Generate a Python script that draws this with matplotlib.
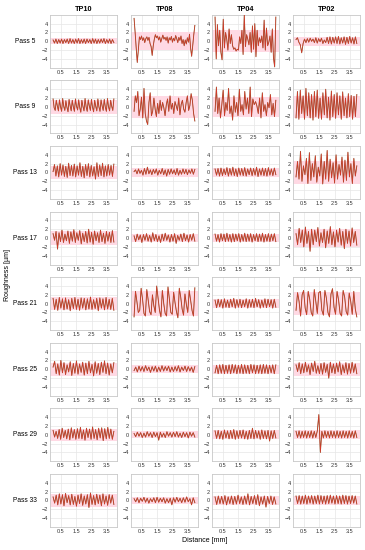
import numpy as np
import matplotlib
matplotlib.use('Agg')
import matplotlib.pyplot as plt

plt.rcParams['font.family'] = ['Liberation Sans', 'DejaVu Sans']

# column / row labels
specimens = ['TP10', 'TP08', 'TP04', 'TP02']
passes = ['Pass 5', 'Pass 9', 'Pass 13', 'Pass 17', 'Pass 21', 'Pass 25', 'Pass 29', 'Pass 33']
x_ticks = [0.5, 1.5, 2.5, 3.5]
y_ticks = [-4, -2, 0, 2, 4]

# roughness profiles [um] (evenly spaced along the 0-3.95 mm trace)
tp10_p05 = [0.3, -0.4, 0.5, -0.5, 0.4, -0.4, 0.5, -0.5, 0.4, -0.3, 0.5, -0.5, 0.6, -0.4, 0.4, -0.5, 0.5, -0.4, 0.6, -0.5, 0.4, -0.4,
            0.5, -0.5, 0.5, -0.3, 0.4, -0.5, 0.6, -0.4, 0.5, -0.5, 0.4, -0.4, 0.5, -0.3, 0.6, -0.5, 0.4, -0.4, 0.5, -0.5, 0.4, -0.3]
tp08_p05 = [5.2, 2.0, -1.5, -4.8, -2.0, 1.0, 0.4, 1.2, 0.2, 0.8, -0.3, 0.6, 1.0, 0.2, 0.9, -0.5, -1.2, -3.2, -1.0, 0.5, 1.5, 0.8,
            1.2, 0.3, 1.0, -0.2, 0.6, 1.4, 0.5, 0.9, 0.2, 1.0, -0.4, 0.8, 0.3, 1.1, -0.2, 0.7, 0.1, 1.3, 0.6, -0.3, 0.9, 0.2,
            1.2, -0.5, 0.4, -1.0, 0.3, -0.6, 0.8, -0.2, 1.6, -1.5, -3.4, -1.0, 1.5, 3.6]
tp04_p05 = [5.5, -4.0, 3.8, -1.0, 2.5, -2.5, -4.2, 5.0, -1.5, 2.0, 0.5, -2.0, 2.8, -0.5, 1.5, -1.0, -1.8, -1.5, -2.2, -1.8, -2.0,
            1.0, -0.5, 2.5, -3.0, 6.0, -1.2, 1.5, 0.5, -0.8, 2.0, -2.5, 3.5, -1.8, 4.0, -3.5, 2.5, -1.0, 0.8, -0.3, 1.2, -1.5,
            4.8, -2.0, 3.0, -1.0, -0.2, 1.2, -2.5, 2.8, -3.8, -5.8, 5.5]
tp02_p05 = [0.4, 0.8, -0.2, -0.8, -2.6, -0.5, 0.5, -0.3, 0.6, -0.2, 0.7, 0.0, 0.5, -0.3, 0.8, -0.4, 0.6, -0.1, 0.7, -0.5, 0.3,
            -0.3, 0.9, -0.5, 1.0, -0.6, 0.9, -0.4, 1.0, -0.5, 1.1, -0.6, 0.8, -0.4, 1.0, -0.7, 0.9, -0.5, 1.1, -0.4, 0.8, -0.6,
            1.0, -0.5]

tp10_p09 = [1.8, -0.2, -0.8, 1.5, 0.2, -0.9, 1.6, 0.0, -1.0, 1.9, 0.1, -0.8, 1.4, -0.1, -1.1, 1.7, 0.2, -0.9, 1.5, 0.0, -1.0,
            1.8, 0.1, -0.7, 1.6, -0.2, -1.2, 1.5, 0.1, -0.9, 1.9, 0.0, -1.0, 1.6, 0.2, -0.8, 1.7, -0.1, -1.1, 1.5, 0.1, -0.9,
            1.8, 0.0, -1.0, 1.6, 0.2, -0.8, 1.7, -0.1, -1.0, 1.9, 0.0, -0.9, 1.5, 0.1, -0.8, 1.8]
tp08_p09 = [-1.0, 2.5, 1.0, 3.5, -2.0, -0.5, 2.2, -2.5, 4.2, -1.5, -3.2, -4.0, 1.0, 3.2, -2.0, -1.0, 2.0, -0.5, -2.2, 0.8,
            -1.5, 1.5, -0.8, 1.0, -0.2, -2.0, 0.5, 1.8, -1.0, 2.5, -0.5, 0.8, -1.5, 1.2, 0.2, -0.8, 2.0, -1.8, 0.6, 1.5, -0.5,
            -1.2, 1.0, 2.5, -0.8, 0.3, 3.0, 1.5, -1.5, -3.2]
tp04_p09 = [-1.0, 4.5, -1.5, 2.0, -2.5, 0.5, 3.8, -2.0, 1.0, -0.8, 4.2, -1.5, 0.2, -3.0, 2.5, -1.2, 1.0, -2.0, 4.0, -1.0, 0.5,
            -1.8, 3.5, -0.5, 2.0, -1.5, 4.5, -2.2, 1.8, 0.5, 1.2, 0.2, -1.5, 2.0, -2.5, 3.2, -1.0, 0.5, -2.0, 1.0, -0.2, 2.8,
            -1.8, 0.8, -2.2, 1.5]
tp02_p09 = [-2.5, 3.5, -2.8, 3.8, -1.5, 2.5, -2.8, 4.2, -2.0, 3.2, -2.5, 2.8, -3.0, 3.5, -2.2, 3.8, -2.6, 2.0, -2.8, 3.2, -1.8,
            4.0, -2.5, 2.2, -3.0, 3.6, -2.2, 2.8, -2.6, 3.2, -1.8, 2.5, -2.8, 3.4, -2.0, 2.0, -2.5, 3.0, -2.2, 2.6, -2.8, 2.4,
            -2.2, 2.8]

tp10_p13 = [0.2, 1.8, -0.8, 1.5, -1.0, 2.0, -0.6, 1.7, -0.9, 1.4, -1.1, 2.1, -0.7, 1.6, -0.8, 1.9, -1.0, 1.5, -0.6, 2.2, -0.9,
            1.4, -1.2, 1.8, -0.7, 2.0, -1.0, 1.6, -0.8, 1.3, -1.5, 2.2, -0.9, 1.7, -0.7, 2.1, -1.0, 1.5, -0.8, 1.8, -0.6, 1.6,
            -0.9, 1.9]
tp08_p13 = [0.2, 0.6, -0.3, 0.8, -0.2, 0.5, -0.6, 0.9, -0.4, 1.2, -0.3, 0.6, -0.5, 0.7, -0.2, 0.8, -0.6, 0.5, -0.3, 0.9, -0.5,
            0.6, -0.8, 0.7, -0.4, 0.8, -0.3, 0.6, -0.5, 0.9, -0.6, 0.5, -0.4, 0.8, -0.3, 0.7, -0.5, 0.6, -0.2, 0.8, -0.4, 0.7]
tp04_p13 = [0.8, -0.6, 0.9, -0.8, 1.0, -0.7, 0.8, -0.5, 1.1, -0.8, 0.9, -0.6, 1.2, -0.7, 0.8, -0.9, 1.0, -0.6, 0.9, -0.7, 1.1,
            -0.8, 0.8, -0.5, 1.0, -0.7, 0.9, -0.6, 1.2, -0.9, 0.8, -0.6, 1.0, -0.7, 0.9, -0.8, 1.1, -0.6, 0.8, -0.7, 1.0, -0.5]
tp02_p13 = [-1.0, 2.5, -1.5, 4.8, -2.0, 1.5, -0.5, 3.2, -2.5, 4.5, -1.8, 2.0, -1.0, 3.8, -2.2, 1.2, -0.8, 4.2, -2.6, 2.5, -1.5,
            5.0, -2.0, 3.0, -1.2, 2.2, -2.4, 4.0, -1.5, 1.8, -0.6, 3.5, -2.2, 2.8, -1.8, 4.6, -1.0, 2.0, -2.5, 3.2, -0.8, 1.5]

tp10_p17 = [1.0, -0.5, 1.5, -2.5, 1.2, -0.8, 1.8, -1.0, 0.9, -0.6, 1.6, -1.2, 1.4, -0.7, 1.9, -1.0, 1.2, -0.5, 1.7, -1.3, 1.1,
            -0.8, 1.5, -1.1, 2.0, -0.9, 1.3, -1.4, 1.6, -0.6, 1.2, -1.0, 1.8, -0.8, 1.1, -1.2, 1.5, -0.7, 1.3, -1.0, 1.7, -0.9]
tp08_p17 = [0.5, -0.8, 0.9, -0.4, 0.7, -1.0, 0.8, -0.5, 1.0, -0.7, 0.6, -0.9, 1.2, -0.6, 0.8, -0.8, 0.5, -1.0, 0.9, -0.6, 1.1,
            -0.5, 0.7, -0.9, 0.8, -0.7, 1.0, -1.2, 0.6, -0.5, 0.9, -0.8, 1.1, -0.6, 0.7, -0.9, 0.8, -0.5, 1.0, -0.7]
tp04_p17 = [0.9, -0.7, 0.8, -0.9, 1.0, -0.6, 0.9, -0.8, 1.1, -0.7, 0.8, -0.9, 1.0, -0.8, 0.9, -0.6, 1.0, -0.9, 0.8, -0.7, 1.1,
            -0.8, 0.9, -0.7, 1.0, -0.9, 0.8, -0.6, 1.0, -0.8, 0.9, -0.7, 1.1, -0.9, 0.8, -0.7, 1.0, -0.8, 0.9, -0.6, 1.0, -0.8]
tp02_p17 = [1.0, -1.5, 2.2, -1.0, 1.8, -2.0, 2.5, -1.2, 1.5, -3.0, 2.0, -1.5, 1.8, -0.8, 2.4, -1.8, 1.2, -1.0, 2.0, -2.2, 1.6,
            -1.2, 2.6, -1.5, 1.4, -2.0, 1.8, -0.9, 2.2, -1.6, 1.5, -2.4, 2.0, -1.2, 1.6, -1.8, 2.3, -1.0, 1.5, -1.6]

tp10_p21 = [1.2, -1.3, 1.0, -1.5, 1.4, -1.0, 1.1, -1.4, 1.3, -1.2, 0.9, -1.6, 1.2, -1.1, 1.4, -1.3, 1.0, -1.5, 1.3, -1.0, 1.2,
            -1.4, 1.1, -1.2, 1.5, -1.3, 0.9, -1.1, 1.2, -1.6, 1.3, -1.0, 1.1, -1.4, 1.4, -1.2, 1.0, -1.3, 1.2, -1.5]
tp08_p21 = [-3.0, 2.8, 0.5, -2.0, -1.5, 3.5, 1.0, -2.2, -2.8, 3.2, 0.8, -1.8, -2.5, 2.0, -0.5, -2.0, 4.0, 1.2, -1.5, -3.0, 3.0,
            0.0, -2.2, -2.8, 3.8, 1.0, -2.0, -2.4, 2.6, 0.2, -1.8, -3.2, 3.5, 1.5, -1.2, -2.6, 2.2, -0.2, -2.0, 3.0, 0.8, -1.5,
            -2.8, 3.6]
tp04_p21 = [0.8, -0.9, 1.0, -0.7, 0.9, -1.0, 1.1, -0.8, 0.8, -0.9, 1.0, -0.7, 1.2, -1.0, 0.9, -0.8, 1.0, -0.9, 0.8, -0.7, 1.1,
            -1.0, 0.9, -0.8, 1.0, -0.9, 1.2, -0.7, 0.9, -1.0, 0.8, -0.8, 1.1, -0.9, 1.0, -0.7, 0.9, -1.0, 1.0, -0.8]
tp02_p21 = [-1.5, 2.5, 0.5, -2.8, 2.0, 3.0, -1.0, -2.5, 2.8, 1.0, -2.0, -2.8, 3.2, 0.5, -2.2, 2.5, 2.8, -1.5, -2.6, 3.0, 1.2,
            -2.0, -3.0, 2.2, 3.4, -0.8, -2.4, 2.8, 0.8, -2.2, -2.8, 3.0, 1.5, -1.8, -2.6, 2.4, 0.5, -2.4, 2.8, -1.2, -3.0]

tp10_p25 = [0.5, 1.8, -1.0, 1.2, -1.3, 2.0, -0.8, 1.5, -1.2, 1.0, -0.6, 1.7, -1.4, 1.3, -0.9, 1.9, -1.1, 1.2, -0.7, 1.6, -1.3,
            1.4, -1.0, 1.8, -0.8, 1.1, -1.5, 1.7, -0.9, 1.3, -1.2, 1.6, -0.7, 1.9, -1.0, 1.4, -1.3, 1.2, -0.8, 1.5]
tp08_p25 = [-0.3, 0.5, -0.6, 0.7, -0.4, 0.6, -0.5, 0.8, -0.3, 0.5, -0.7, 0.6, -0.4, 0.7, -0.6, 0.5, -0.5, 0.8, -0.4, 0.6, -0.3,
            0.7, -0.6, 0.5, -0.5, 0.6, -0.4, 0.8, -0.6, 0.5, -0.3, 0.7, -0.5, 0.6, -0.4, 0.5, -0.7, 0.6]
tp04_p25 = [-0.8, 0.9, -1.0, 1.0, -0.9, 1.1, -1.0, 0.9, -0.9, 1.0, -1.0, 1.1, -0.8, 1.0, -1.0, 0.9, -0.9, 1.1, -1.0, 1.0, -0.9,
            0.9, -1.0, 1.1, -0.8, 1.0, -1.0, 0.9, -0.9, 1.0, -1.0, 1.1, -0.9, 1.0, -1.0, 0.9, -0.8, 1.0, -1.0, 1.0]
tp02_p25 = [1.0, -0.5, 1.5, -1.0, 1.2, -0.8, 1.6, -0.6, 1.0, -1.2, 1.4, -0.5, 1.8, -0.9, 0.8, -1.0, 1.3, -1.1, 1.5, -0.7, 1.1,
            -2.0, 1.6, -0.8, 1.2, -1.0, 1.4, -0.6, 1.7, -1.2, 1.0, -0.8, 1.5, -1.1, 1.3, -0.9, 1.6, -0.7, 1.2, -1.0]

tp10_p29 = [1.0, -0.5, 0.8, -0.8, 1.2, -1.0, 1.5, -0.6, 1.0, -0.9, 1.3, -1.1, 1.6, -0.7, 1.2, -1.0, 1.4, -0.8, 1.7, -0.9, 1.1,
            -1.2, 1.5, -0.6, 1.3, -1.0, 1.8, -0.8, 1.2, -1.1, 1.5, -0.7, 1.6, -1.3, 1.4, -0.9, 1.7, -0.8, 1.3, -1.0, 0.8]
tp08_p29 = [0.3, -0.4, 0.6, -0.3, 0.5, -0.6, 0.4, -0.5, 0.7, -0.3, 0.5, -0.6, 0.6, -0.4, 0.5, -1.2, 0.6, -0.5, 0.4, -0.6, 0.7,
            -0.3, 0.5, -0.5, 0.6, -0.4, 0.7, -0.5, 0.4, -0.6, 0.6, -0.4, 0.5, -0.7, 0.6, -0.3, 0.5, -0.5]
tp04_p29 = [0.9, -0.8, 1.0, -0.9, 0.8, -1.0, 1.1, -0.7, 0.9, -0.9, 1.0, -0.8, 1.2, -1.0, 0.9, -0.8, 1.0, -0.7, 1.1, -0.9, 0.8,
            -1.0, 1.0, -0.8, 1.5, -0.9, 1.0, -0.7, 0.9, -1.0, 1.1, -0.8, 0.9, -0.9, 1.0, -1.4, 0.9, -0.8, 1.0, -0.7]
tp02_p29 = [0.8, -0.6, 0.9, -0.7, 0.8, -0.6, 0.9, -0.7, 0.8, -0.6, 0.9, -0.7, 0.8, -0.6, 0.9, 4.6, -4.0, 0.8, -0.7, 0.9, -0.6,
            0.8, -0.7, 0.9, -0.6, 0.8, -0.7, 0.9, -0.6, 0.8, -0.7, 0.9, -0.6, 0.8, -0.7, 0.9, -0.6, 0.8, -0.7, 0.9, -0.6]

tp10_p33 = [0.8, -0.6, 1.2, -1.0, 1.5, -0.8, 1.3, -1.2, 1.6, -0.5, 1.1, -1.0, 1.4, -0.9, 0.9, -1.3, 1.2, -0.7, 1.5, -1.1, 1.0,
            -0.8, 1.3, -1.6, 1.7, -0.9, 1.1, -1.0, 1.4, -0.7, 1.2, -1.2, 1.5, -0.8, 1.0, -1.1, 1.3, -0.6, 1.2, -0.9]
tp08_p33 = [0.4, -0.3, 0.6, -0.5, 0.5, -0.2, 0.7, -0.4, 0.5, -0.6, 0.4, -0.3, 0.6, -0.5, 0.7, -0.4, 0.5, -0.3, 0.6, -0.6, 0.4,
            -0.5, 0.5, -1.0, 0.6, -0.4, 0.7, -0.3, 0.5, -0.5, 0.6, -0.4, 0.8, -0.3, 0.4, -1.0, 0.6, -0.5]
tp04_p33 = [0.8, -0.9, 1.0, -0.7, 0.9, -0.8, 1.1, -1.0, 0.8, -0.7, 1.0, -0.9, 0.9, -0.8, 1.2, -0.7, 0.8, -0.9, 1.0, -0.8, 1.5,
            -1.0, 0.9, -0.7, 1.1, -0.9, 1.3, -1.2, 0.8, -0.8, 1.0, -1.5, 0.9, -0.7, 1.0, -0.9, 0.8, -0.8]
tp02_p33 = [1.0, -0.7, 1.1, -0.8, 1.0, -0.7, 1.2, -0.8, 1.0, -0.6, 1.1, -0.8, 1.0, -0.7, 1.2, -0.8, 1.1, -0.7, 1.0, -0.8, 1.1,
            -0.7, 1.2, -0.6, 1.0, -0.8, 1.1, -0.7, 1.0, -0.8, 1.2, -0.7, 1.1, -0.8, 1.0, -0.7, 1.1, -0.6, 1.0, -0.8]

# half height of the pink band per pass (rows) for each specimen
band_tp10 = [0.7, 1.5, 1.5, 1.5, 1.5, 1.5, 1.4, 1.5]
band_tp08 = [2.0, 2.5, 1.0, 1.0, 2.8, 0.9, 0.8, 0.8]
band_tp04 = [2.5, 2.3, 1.0, 1.0, 1.0, 1.0, 1.0, 1.0]
band_tp02 = [1.0, 2.5, 2.5, 2.0, 2.6, 1.5, 1.0, 1.0]

profiles = [
    [tp10_p05, tp08_p05, tp04_p05, tp02_p05],
    [tp10_p09, tp08_p09, tp04_p09, tp02_p09],
    [tp10_p13, tp08_p13, tp04_p13, tp02_p13],
    [tp10_p17, tp08_p17, tp04_p17, tp02_p17],
    [tp10_p21, tp08_p21, tp04_p21, tp02_p21],
    [tp10_p25, tp08_p25, tp04_p25, tp02_p25],
    [tp10_p29, tp08_p29, tp04_p29, tp02_p29],
    [tp10_p33, tp08_p33, tp04_p33, tp02_p33],
]
bands = [band_tp10, band_tp08, band_tp04, band_tp02]

fig, axes = plt.subplots(len(passes), len(specimens), figsize=(3.65, 5.5), dpi=100)
fig.subplots_adjust(left=0.137, right=0.986, top=0.973, bottom=0.042, wspace=0.21, hspace=0.24)

for i in range(len(passes)):
    for j in range(len(specimens)):
        ax = axes[i, j]
        y = np.array(profiles[i][j])
        x = np.linspace(0, 3.95, len(y))
        ax.axhspan(-bands[j][i], bands[j][i], color='#ffd9e4', lw=0, zorder=1)
        ax.plot(x, y, color='#6b4a16', lw=0.65, alpha=0.9, zorder=3)
        ax.plot(x, y, color='#ff2a2a', lw=0.4, alpha=0.75, zorder=4)
        ax.set_xlim(-0.2, 4.15)
        ax.set_ylim(-6, 6)
        ax.set_xticks(x_ticks)
        ax.set_yticks(y_ticks)
        ax.set_xticklabels([str(t) for t in x_ticks])
        ax.grid(True, color='#e6e6e6', lw=0.5, zorder=0)
        ax.set_axisbelow(True)
        ax.tick_params(length=0, labelsize=4.0, colors='#333333', pad=1.5)
        for s in ax.spines.values():
            s.set_color('#c8c8c8')
            s.set_linewidth(0.6)
        if i == 0:
            ax.set_title(specimens[j], fontsize=5.2, fontweight='bold', pad=3)
        if j == 0:
            ax.text(-0.37, 0.5, passes[i], transform=ax.transAxes, fontsize=4.8, ha='center', va='center')

fig.text(0.02, 0.5, 'Roughness [\u00b5m]', rotation=90, fontsize=5, ha='center', va='center')
fig.text(0.562, 0.017, 'Distance [mm]', fontsize=5, ha='center', va='center')

plt.savefig('out.png', dpi=100)
